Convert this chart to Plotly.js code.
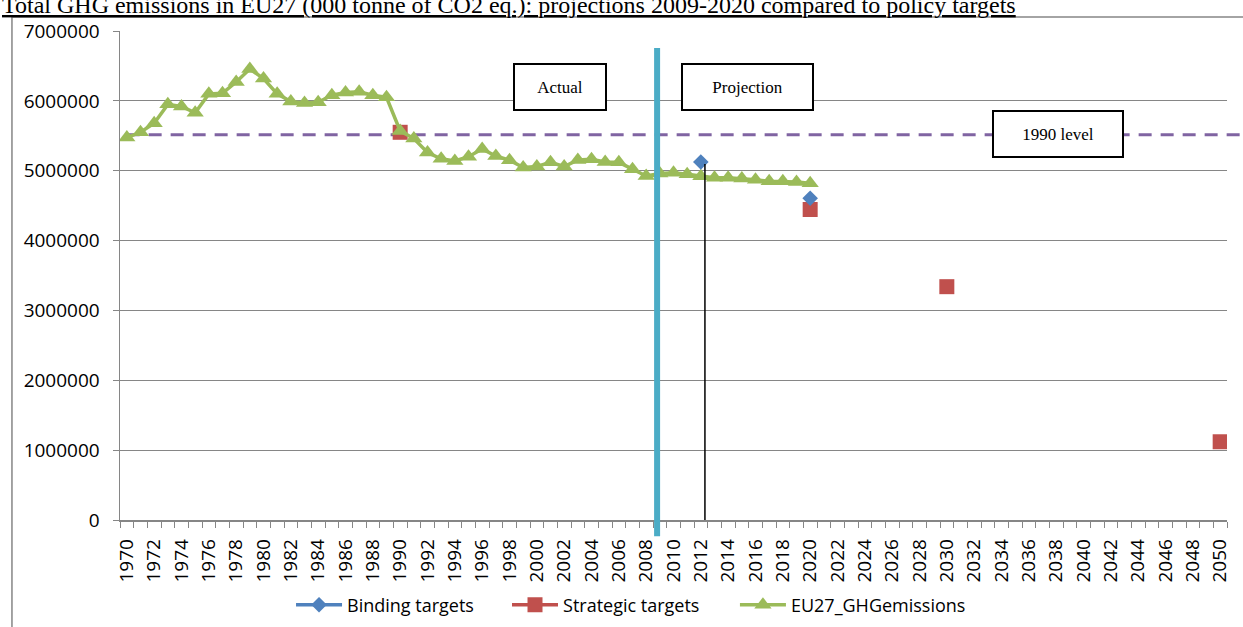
<!DOCTYPE html>
<html>
<head>
<meta charset="utf-8">
<script src="https://cdn.plot.ly/plotly-3.0.1.min.js"></script>
<style>html,body{margin:0;padding:0;background:#fff;}#chart{width:1243px;height:627px;}</style>
</head>
<body>
<div id="chart"></div>
<script>
// ---- data ----
var emissionYears = [1970,1971,1972,1973,1974,1975,1976,1977,1978,1979,
  1980,1981,1982,1983,1984,1985,1986,1987,1988,1989,
  1990,1991,1992,1993,1994,1995,1996,1997,1998,1999,
  2000,2001,2002,2003,2004,2005,2006,2007,2008,2009,
  2010,2011,2012,2013,2014,2015,2016,2017,2018,2019,2020];
var emissionValues = [5475000,5550000,5680000,5950000,5920000,5830000,6100000,6110000,6270000,6455000,
  6320000,6100000,5990000,5970000,5980000,6080000,6120000,6130000,6080000,6050000,
  5570000,5460000,5260000,5170000,5140000,5200000,5310000,5210000,5150000,5045000,
  5060000,5120000,5060000,5155000,5165000,5125000,5120000,5020000,4925000,4960000,
  4970000,4950000,4920000,4900000,4900000,4890000,4870000,4850000,4850000,4840000,4820000];
var bindingYears = [2012, 2020];
var bindingValues = [5125000, 4605000];
var strategicYears = [1990, 2020, 2030, 2050];
var strategicValues = [5550000, 4445000, 3340000, 1120000];
var level1990 = 5515000;
var tickYears = [];
for (var yr = 1970; yr <= 2050; yr += 2) tickYears.push(yr);
var tickLabels = tickYears.map(String);
var yTicks = [0,1000000,2000000,3000000,4000000,5000000,6000000,7000000];
var boxLabels = ["Actual", "Projection", "1990 level"];
var boxX = [2001.66, 2015.38, 2038.17];
var boxY = [6205000, 6205000, 5525000];
var boxW = [88, 127, 126];
var actualEndYear = 2008.8;
var bindingLineYear = 2012.3;
var titleText = "Total GHG emissions in EU27 (000 tonne of CO2 eq.): projections 2009-2020 compared to policy targets";

// split isolated points with nulls so lines never connect them
function gapped(xs, ys) {
  var gx = [], gy = [];
  for (var i = 0; i < xs.length; i++) {
    if (i > 0) { gx.push(null); gy.push(null); }
    gx.push(xs[i]); gy.push(ys[i]);
  }
  return {x: gx, y: gy};
}
var b = gapped(bindingYears, bindingValues);
var s = gapped(strategicYears, strategicValues);

var BLUE = '#4F81BD', RED = '#C0504D', GREEN = '#9BBB59', PURPLE = '#8064A2', CYAN = '#4BACC6', GRID = '#868686';
var SANS = '"Open Sans", Lato, sans-serif';
var SERIF = '"Liberation Serif", "Times New Roman", serif';

var traces = [
  {x: s.x, y: s.y, name: 'Strategic targets', mode: 'lines+markers', connectgaps: false, legend: 'legend2',
   line: {color: RED, width: 3.5}, marker: {symbol: 'square', size: 15, color: RED}},
  {x: emissionYears, y: emissionValues, name: 'EU27_GHGemissions', mode: 'lines+markers', legend: 'legend3',
   line: {color: GREEN, width: 3.5}, marker: {symbol: 'triangle-up', size: 15, color: GREEN}},
  {x: b.x, y: b.y, name: 'Binding targets', mode: 'lines+markers', connectgaps: false, legend: 'legend',
   line: {color: BLUE, width: 3.5}, marker: {symbol: 'diamond', size: 12, color: BLUE}}
];

var annotations = [];
for (var i = 0; i < boxLabels.length; i++) {
  annotations.push({x: boxX[i], y: boxY[i], xref: 'x', yref: 'y', text: boxLabels[i], showarrow: false,
    font: {family: SERIF, size: 17, color: '#000'},
    width: boxW[i], height: 42, bgcolor: '#fff', bordercolor: '#000', borderwidth: 2, borderpad: 1,
    xanchor: 'center', yanchor: 'middle', align: 'center', valign: 'middle'});
}
annotations.push({xref: 'paper', yref: 'paper', x: -0.1084, y: 1.054, xanchor: 'left', yanchor: 'middle',
  text: '<u>' + titleText + '</u>', showarrow: false,
  font: {family: SERIF, size: 24, color: '#000'}});

var shapes = [
  // chart frame (cropped)
  {type: 'path', xref: 'paper', yref: 'paper', path: 'M -0.0976,-0.25 L -0.0976,1.0286 L 1.05,1.0286',
   line: {color: GRID, width: 1.5}},
  // 1990 level dashed line
  {type: 'line', xref: 'paper', yref: 'y', x0: 0.006, x1: 1.03, y0: level1990, y1: level1990,
   line: {color: PURPLE, width: 3, dash: '13px,9px'}, layer: 'below'},
  // actual/projection divider
  {type: 'line', xref: 'x', yref: 'paper', x0: actualEndYear, x1: actualEndYear, y0: -0.033, y1: 0.965,
   line: {color: CYAN, width: 6}},
  // binding target drop line
  {type: 'line', xref: 'x', yref: 'y', x0: bindingLineYear, x1: bindingLineYear, y0: 0, y1: bindingValues[0] - 30000,
   line: {color: '#000', width: 1.5}}
];

function legendAt(xp) {
  return {orientation: 'h', x: xp, xanchor: 'left', yref: 'container', y: 0.035, yanchor: 'middle',
    font: {family: SANS, size: 18, color: '#000'}, bgcolor: 'rgba(0,0,0,0)', itemwidth: 46};
}

var layout = {
  width: 1243, height: 627,
  margin: {l: 120, r: 16, t: 31, b: 107, pad: 0, autoexpand: false},
  paper_bgcolor: '#fff', plot_bgcolor: '#fff',
  showlegend: true,
  legend: legendAt(0.1545),
  legend2: legendAt(0.3496),
  legend3: legendAt(0.5555),
  xaxis: {type: 'linear', range: [1969.5, 2050.5], tickmode: 'array', tickvals: tickYears, ticktext: tickLabels,
    tickangle: -90, ticks: '', showgrid: false, zeroline: false, showline: true, linecolor: GRID, linewidth: 1.5,
    automargin: false,
    tickfont: {family: SANS, size: 19, color: '#000'}, ticklabelstandoff: 10,
    minor: {ticks: 'outside', tick0: 1969.5, dtick: 1, ticklen: 6, tickcolor: GRID, tickwidth: 1, showgrid: false}},
  yaxis: {range: [0, 7000000], tickmode: 'array', tickvals: yTicks, tickformat: 'd', automargin: false,
    showgrid: true, gridcolor: GRID, gridwidth: 1, zeroline: false, showline: true, linecolor: GRID, linewidth: 1.5,
    ticks: 'outside', ticklen: 6, tickcolor: GRID, ticklabelstandoff: 9,
    tickfont: {family: SANS, size: 19, color: '#000'}},
  shapes: shapes,
  annotations: annotations
};

Plotly.newPlot('chart', traces, layout, {displayModeBar: false, staticPlot: true});
</script>
</body>
</html>
